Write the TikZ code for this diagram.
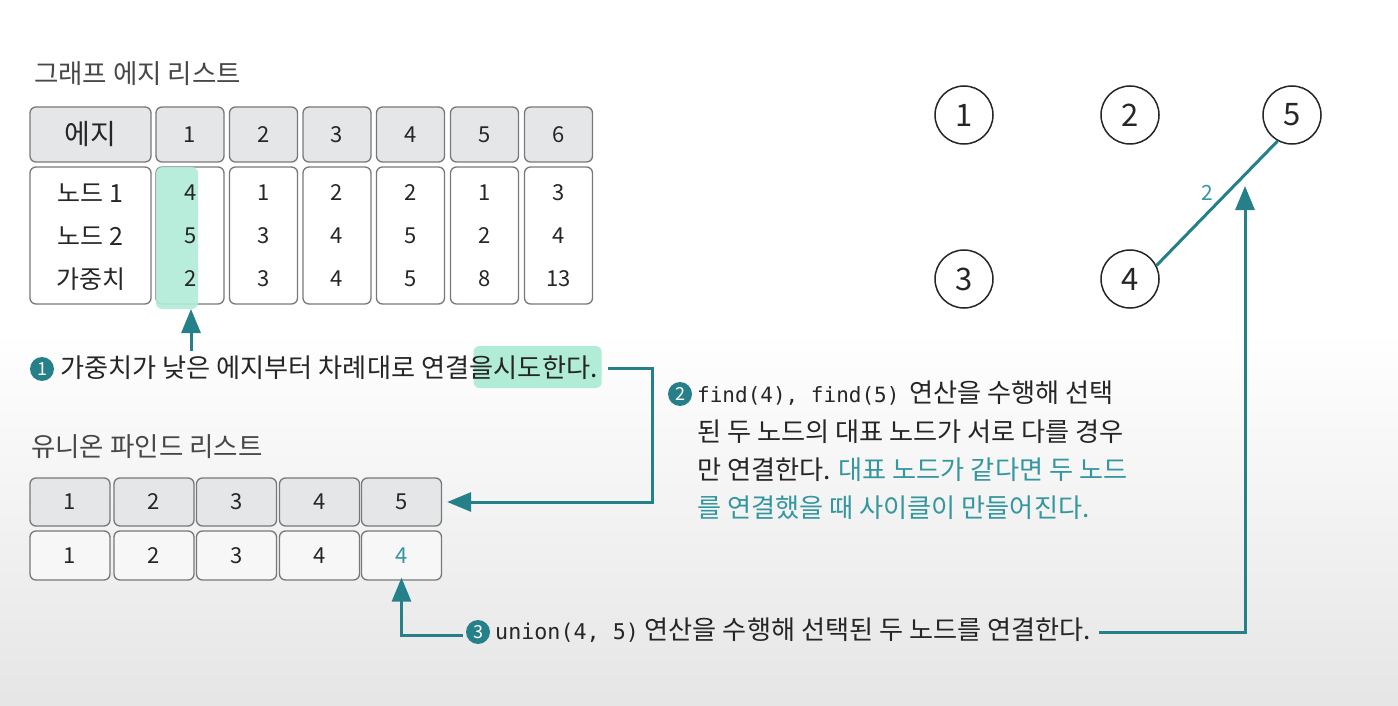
\documentclass[tikz,border=0pt]{standalone}
\usepackage{fontspec}
\setmainfont{Noto Sans CJK KR}
\newfontfamily\monofont{DejaVu Sans Mono}
\usetikzlibrary{arrows.meta,calc}
\definecolor{tealc}{RGB}{38,128,138}
\definecolor{tealt}{RGB}{52,150,158}
\definecolor{mint}{RGB}{176,236,214}
\definecolor{hdr}{RGB}{229,230,231}
\definecolor{bord}{RGB}{120,120,120}
\definecolor{txt}{RGB}{38,38,38}
\pgfdeclarelayer{back}
\pgfdeclarelayer{hl}
\pgfsetlayers{back,hl,main}
\newcommand{\mono}[2][20.5]{{\monofont\fontsize{#1}{24}\selectfont #2}}
\begin{document}
\begin{tikzpicture}[x=1pt,y=-1pt,
  hcell/.style={draw=bord,line width=1.3pt,rounded corners=6pt,fill=hdr,inner sep=0pt,text=txt},
  bcell/.style={draw=bord,line width=1.3pt,rounded corners=6pt,fill=white,inner sep=0pt,text=txt},
  ucell/.style={draw=bord,line width=1.3pt,rounded corners=6pt,fill=white!97!black,inner sep=0pt,text=txt},
  val/.style={font=\fontsize{22}{26}\selectfont,text=txt,inner sep=0pt},
  lab/.style={font=\fontsize{25}{28}\selectfont,text=txt,inner sep=0pt},
  ttl/.style={font=\fontsize{26.5}{30}\selectfont,text=txt!85!white,inner sep=0pt,anchor=west},
  body/.style={font=\fontsize{26.2}{30}\selectfont,text=txt,inner sep=0pt,anchor=west},
  numc/.style={circle,fill=tealc,text=white,inner sep=0pt,minimum size=24pt,font=\fontsize{18}{18}\selectfont},
  gnode/.style={circle,draw=txt,line width=1.5pt,fill=white,minimum size=58pt,inner sep=0pt,font=\fontsize{31}{32}\selectfont,text=txt},
  conn/.style={draw=tealc,line width=3pt,-{Triangle[length=24pt,width=19pt]}},
]
\begin{pgfonlayer}{back}
\fill[white] (0,0) rectangle (1398,706);
\shade[top color=white,bottom color=black!10] (0,330) rectangle (1398,706);
\end{pgfonlayer}
\useasboundingbox (0,0) rectangle (1398,706);

% ---- edge list ----
\node[ttl] (t1) at (34,74) {그래프 에지 리스트};
\node[hcell,minimum width=121pt,minimum height=55pt,font=\fontsize{28}{30}\selectfont] (eh0) at (90.5,134.5) {에지};
\node[bcell,minimum width=121pt,minimum height=137pt] (eb0) at (90.5,235.5) {};
\foreach \i/\x in {1/190, 2/263.5, 3/337, 4/410.5, 5/484.5, 6/558.5}{
  \node[hcell,minimum width=68pt,minimum height=55pt,font=\fontsize{22}{26}\selectfont] (eh\i) at (\x,134.5) {\i};
  \node[bcell,minimum width=68pt,minimum height=137pt] (eb\i) at (\x,235.5) {};
}
% highlight of edge 1
\fill[mint,opacity=0.9,rounded corners=6pt] (156,167) rectangle (198,309);
\coordinate (hlb) at (191,309);
\node[lab] (l1) at (90.5,193) {노드 1};
\node[lab] (l2) at (90.5,236) {노드 2};
\node[lab] (l3) at (90.5,279) {가중치};
\foreach \i/\x/\a/\b/\w in {1/191/4/5/2, 2/263.5/1/3/3, 3/337/2/4/4, 4/410.5/2/5/5, 5/484.5/1/2/8, 6/558.5/3/4/13}{
  \node[val] (ea\i) at (\x,193) {\a};
  \node[val] (eb2\i) at (\x,236) {\b};
  \node[val] (ew\i) at (\x,279) {\w};
}

% ---- step 1 ----
\node[numc] (n1) at (42,369) {1};
\node[body] (s1a) at (60,368) {가중치가 낮은 에지부터 차례대로 연결을\ };
\node[body,anchor=base west] (s1b) at (s1a.base east) {시도한다.};
\begin{pgfonlayer}{hl}
\fill[mint,rounded corners=6pt] ($(s1b.west)+(-20,-22)$) rectangle ($(s1b.east)+(4,20)$);
\end{pgfonlayer}
\coordinate (a1) at (191,351);
\draw[conn] (a1) -- (hlb);

% ---- union-find list ----
\node[ttl] (t2) at (31,447) {유니온 파인드 리스트};
\foreach \i/\x in {1/70, 2/154, 3/236.5, 4/319.5, 5/401.5}{
  \node[hcell,minimum width=80pt,minimum height=48pt,font=\fontsize{22}{26}\selectfont] (uh\i) at (\x,502) {\i};
}
\foreach \i/\x/\v in {1/70/1, 2/154/2, 3/236.5/3, 4/319.5/4}{
  \node[ucell,minimum width=80pt,minimum height=49pt,font=\fontsize{22}{26}\selectfont] (ub\i) at (\x,555.5) {\v};
}
\node[ucell,minimum width=80pt,minimum height=49pt,font=\fontsize{22}{26}\selectfont,text=tealt] (ub5) at (401.5,555.5) {4};

% connector step1 -> union-find header
\coordinate (k2) at (652,368);
\draw[conn] ([xshift=10pt]s1b.east) -- (k2 |- s1b.east) |- ([xshift=5pt]uh5.east);

% ---- step 2 ----
\node[numc] (n2) at (680,394) {2};
\node[body] (s2a) at (697,393) {\mono[21]{find(4),\ find(5)}\hspace{4pt} 연산을 수행해 선택};
\node[body] (s2b) at (697,432) {된 두 노드의 대표 노드가 서로 다를 경우};
\node[body] (s2c) at (697,470) {만 연결한다. \textcolor{tealt}{대표 노드가 같다면 두 노드}};
\node[body,text=tealt] (s2d) at (697,508) {를 연결했을 때 사이클이 만들어진다.};

% ---- step 3 ----
\node[numc] (n3) at (478,632) {3};
\node[body] (s3) at (495,630) {\mono[21.7]{union(4,\ 5)} 연산을 수행해 선택된 두 노드를 연결한다.};
\draw[conn] ([xshift=-3pt,yshift=-3pt]n3.west) -| ([yshift=3pt]ub5.south);
\coordinate (t4) at (1245,186);
\draw[conn] ([xshift=8pt,yshift=-2pt]s3.east) -| (t4);

% ---- graph ----
\node[gnode] (g1) at (964,115) {1};
\node[gnode] (g2) at (1130,115) {2};
\node[gnode] (g5) at (1292,115) {5};
\node[gnode] (g3) at (964,279) {3};
\node[gnode] (g4) at (1130,279) {4};
\draw[draw=tealc,line width=3pt] (g4.27) -- (g5.241);
\node[font=\fontsize{21}{22}\selectfont,text=tealt,inner sep=0pt] (w45) at (1207,193) {2};
\end{tikzpicture}
\end{document}
